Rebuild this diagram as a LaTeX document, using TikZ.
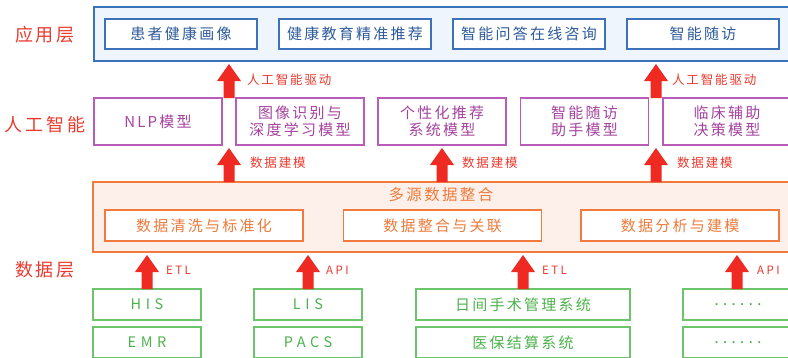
\documentclass[tikz,border=0pt]{standalone}
\usepackage{fontspec}
\setmainfont{Noto Sans CJK SC}
\newfontfamily\cjk[LetterSpace=15]{Noto Sans CJK SC}
\newfontfamily\latsp[LetterSpace=32]{Noto Sans CJK SC}
\newfontfamily\lablat[LetterSpace=22]{Noto Sans CJK SC}
\newfontfamily\dotfont[LetterSpace=14]{Liberation Sans}
\usetikzlibrary{calc}
\definecolor{blueB}{HTML}{3B72B9}
\definecolor{blueF}{HTML}{EEF5FC}
\definecolor{blueT}{HTML}{2E5B9C}
\definecolor{purB}{HTML}{B85CB8}
\definecolor{purT}{HTML}{A5439F}
\definecolor{oraB}{HTML}{F37A3F}
\definecolor{oraF}{HTML}{FDF0EB}
\definecolor{oraT}{HTML}{EE7B3B}
\definecolor{grnB}{HTML}{6CC56A}
\definecolor{grnT}{HTML}{4DB24D}
\definecolor{redT}{HTML}{EA3A2E}
\definecolor{redA}{HTML}{EE2A23}
\newcommand\blockarrow[2]{%
  \path (#1) coordinate (ba) (#2) coordinate (ti);
  \fill[redA] ($(ba)+(-5.5,0)$) -- ($(ti)+(-5.5,20)$) -- ($(ti)+(-12,20)$) -- ($(ti)+(0,3)$)
     -- ($(ti)+(12,20)$) -- ($(ti)+(5.5,20)$) -- ($(ba)+(5.5,0)$) -- cycle;}
\begin{document}
\begin{tikzpicture}[x=1pt,y=-1pt,
  every node/.style={inner sep=0pt, outer sep=0pt},
  appouter/.style={draw=blueB, line width=1.8pt, fill=blueF},
  appbox/.style={draw=blueB, line width=1.6pt, fill=white, minimum width=152pt, minimum height=30pt,
     text=blueT, font=\cjk\fontsize{15}{18}\selectfont},
  aibox/.style={draw=purB, line width=1.5pt, fill=white, minimum width=128pt, minimum height=47pt,
     text=purT, align=center, font=\cjk\fontsize{15}{17}\selectfont},
  dataouter/.style={draw=oraB, line width=1.8pt, fill=oraF},
  databox/.style={draw=oraB, line width=1.6pt, fill=white, minimum width=198pt, minimum height=31pt,
     text=oraT, font=\cjk\fontsize{15}{18}\selectfont},
  srcbox/.style={draw=grnB, line width=1.6pt, fill=white, minimum height=31pt,
     text=grnT, font=\cjk\fontsize{15}{18}\selectfont},
  srclat/.style={srcbox, minimum width=108pt, font=\latsp\fontsize{14.5}{18}\selectfont},
  srcdots/.style={srcbox, minimum width=108pt},
  dottext/.style={text=grnT, font=\dotfont\fontsize{18}{20}\selectfont},
  layerlabel/.style={text=redT, font=\cjk\fontsize{18}{20}\selectfont},
  arrlabel/.style={text=redT, anchor=west, font=\cjk\fontsize{12.5}{14}\selectfont},
  latlabel/.style={text=redT, anchor=west, font=\lablat\fontsize{11.5}{13}\selectfont}
]
\useasboundingbox (0,0) rectangle (788,357);
\clip (0,0) rectangle (788,357);
\fill[white] (0,0) rectangle (788,357);

% application layer
\node[appouter, minimum width=703pt, minimum height=54pt] (app) at (445.5,34) {};
\node[appbox] (a1) at (181,34) {患者健康画像};
\node[appbox] (a2) at (355,34) {健康教育精准推荐};
\node[appbox] (a3) at (529,34) {智能问答在线咨询};
\node[appbox] (a4) at (703,34) {智能随访};
\node[layerlabel] (l1) at (45,35) {应用层};

% AI layer
\node[aibox] (m1) at (158,121.5) {NLP模型};
\node[aibox] (m2) at (300,121.5) {图像识别与\\深度学习模型};
\node[aibox] (m3) at (442,121.5) {个性化推荐\\系统模型};
\node[aibox] (m4) at (584.5,121.5) {智能随访\\助手模型};
\node[aibox] (m5) at (727,121.5) {临床辅助\\决策模型};
\node[layerlabel] (l2) at (45,125) {人工智能};

% data layer
\node[dataouter, minimum width=704pt, minimum height=70pt] (data) at (445,217) {};
\node[text=oraT, font=\cjk\fontsize{15.5}{18}\selectfont] (dt) at (441,195) {多源数据整合};
\node[databox] (d1) at (204,225.5) {数据清洗与标准化};
\node[databox] (d2) at (442.5,225.5) {数据整合与关联};
\node[databox] (d3) at (680,225.5) {数据分析与建模};
\node[layerlabel] (l3) at (45,270) {数据层};

% sources
\node[srclat] (s1) at (147,304.5) {HIS};
\node[srclat] (s2) at (308,304.5) {LIS};
\node[srcbox, minimum width=214pt] (s3) at (523,304.5) {日间手术管理系统};
\node[srcdots] (s4) at (737,304.5) {};
\node[dottext] (s4t) at (738,307) {······};
\node[srclat] (s5) at (147,342.5) {EMR};
\node[srclat] (s6) at (308,342.5) {PACS};
\node[srcbox, minimum width=214pt] (s7) at (523,342.5) {医保结算系统};
\node[srcdots] (s8) at (737,342.5) {};
\node[dottext] (s8t) at (738,345) {······};

% arrow columns
\coordinate (c1) at (229,0);
\coordinate (c2) at (656,0);
\coordinate (c3) at (442,0);

\blockarrow{m1.north -| c1}{app.south -| c1}
\blockarrow{m1.north -| c2}{app.south -| c2}
\node[arrlabel] (t1) at (247,80) {人工智能驱动};
\node[arrlabel] (t2) at (672,80) {人工智能驱动};

\blockarrow{data.north -| c1}{m1.south -| c1}
\blockarrow{data.north -| c3}{m1.south -| c3}
\blockarrow{data.north -| c2}{m1.south -| c2}
\node[arrlabel] (t3) at (250,163) {数据建模};
\node[arrlabel] (t4) at (462,163) {数据建模};
\node[arrlabel] (t5) at (677,163) {数据建模};

\blockarrow{s1.north}{data.south -| s1.north}
\blockarrow{s2.north}{data.south -| s2.north}
\blockarrow{s3.north}{data.south -| s3.north}
\blockarrow{s4.north}{data.south -| s4.north}
\node[latlabel] (e1) at (166,270) {ETL};
\node[latlabel] (e2) at (326,270) {API};
\node[latlabel] (e3) at (542,270) {ETL};
\node[latlabel] (e4) at (757,270) {API};
\end{tikzpicture}
\end{document}
